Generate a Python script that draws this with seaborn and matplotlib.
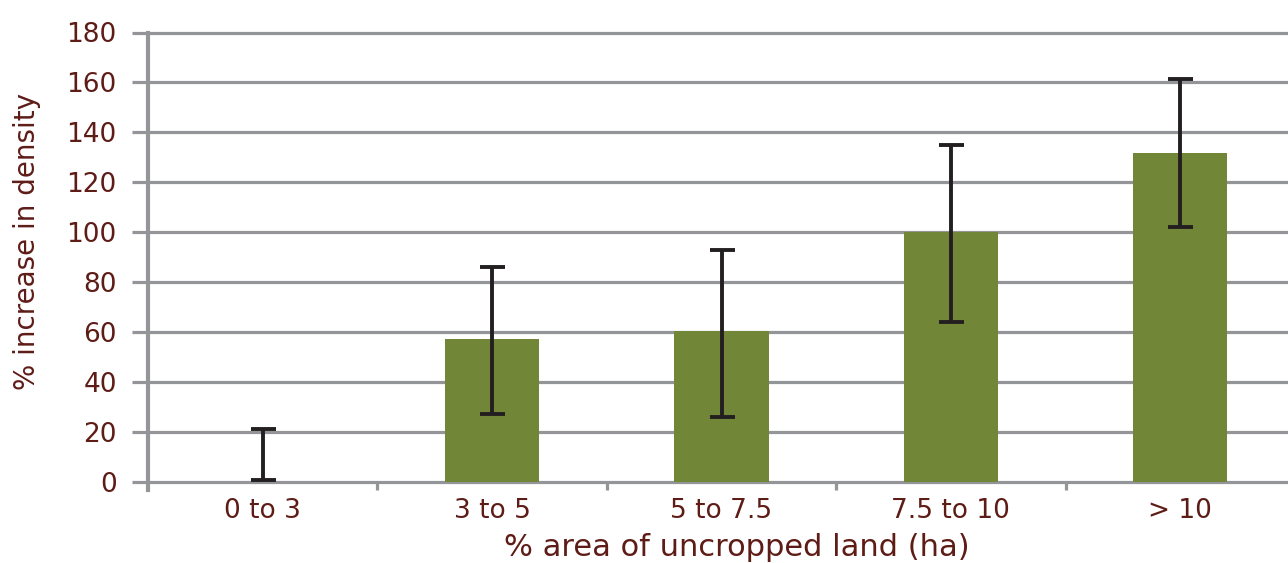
import numpy as np
import pandas as pd
import matplotlib
matplotlib.use("Agg")
import matplotlib.pyplot as plt
import seaborn as sns
from matplotlib.ticker import FixedLocator, NullFormatter

categories = ["0 to 3", "3 to 5", "5 to 7.5", "7.5 to 10", "> 10"]
means = [0.0, 57.0, 60.5, 100.0, 131.5]
err_low = [0.7, 27.0, 26.0, 64.0, 102.0]
err_high = [21.0, 86.0, 93.0, 135.0, 161.5]
y_ticks = [0, 20, 40, 60, 80, 100, 120, 140, 160, 180]

text_color = "#5e1c17"
grid_color = "#939598"
bar_color = "#728637"
err_color = "#231f20"

sns.set_theme(style="white")
plt.rcParams["font.family"] = ["DejaVu Sans"]

df = pd.DataFrame({"cat": categories, "val": means})

fig = plt.figure(figsize=(12.88, 5.63), dpi=100)
ax = fig.add_axes([148 / 1288, (563 - 481.5) / 563, (1295 - 148) / 1288, (481.5 - 32.5) / 563])

sns.barplot(data=df, x="cat", y="val", color=bar_color, saturation=1,
            width=0.41, errorbar=None, ax=ax, zorder=3)
for p in ax.patches:
    p.set_edgecolor("none")

x = np.arange(len(categories))
lo_arr = np.array(err_low)
hi_arr = np.array(err_high)
mid = (lo_arr + hi_arr) / 2
half = (hi_arr - lo_arr) / 2
ax.errorbar(x, mid, yerr=half, fmt="none", ecolor=err_color,
            elinewidth=2.8, capsize=9, capthick=2.8, zorder=4)

ax.set_xlim(-0.5, len(categories) - 0.5)
ax.set_ylim(0, 180)
ax.set_yticks(y_ticks)
ax.set_yticklabels([str(t) for t in y_ticks])
ax.yaxis.grid(True, color=grid_color, linewidth=2.3, zorder=0)
ax.set_axisbelow(True)
for gl in ax.get_ygridlines():
    gl.set_clip_on(False)

for s in ["top", "right", "bottom"]:
    ax.spines[s].set_visible(False)
ax.spines["left"].set_color(grid_color)
ax.spines["left"].set_linewidth(3.0)
ax.spines["left"].set_bounds(-3.6, 180)
ax.spines["left"].set_zorder(5)

ax.tick_params(axis="y", which="major", left=True, length=11.5, width=2.3,
               color=grid_color, pad=11, labelsize=19, labelcolor=text_color)
ax.tick_params(axis="x", which="major", bottom=True, length=0, pad=12,
               labelsize=19, labelcolor=text_color)
ax.xaxis.set_minor_locator(FixedLocator([0.5, 1.5, 2.5, 3.5]))
ax.xaxis.set_minor_formatter(NullFormatter())
ax.tick_params(axis="x", which="minor", bottom=True, length=6, width=2.3,
               color=grid_color, direction="out")

ax.set_xlabel("% area of uncropped land (ha)", fontsize=22, color=text_color)
ax.xaxis.set_label_coords(0.513, -0.115)
ax.set_ylabel("% increase in density", fontsize=20, color=text_color)
ax.yaxis.set_label_coords(-0.093, 0.535)

fig.savefig("out.png", dpi=100)
